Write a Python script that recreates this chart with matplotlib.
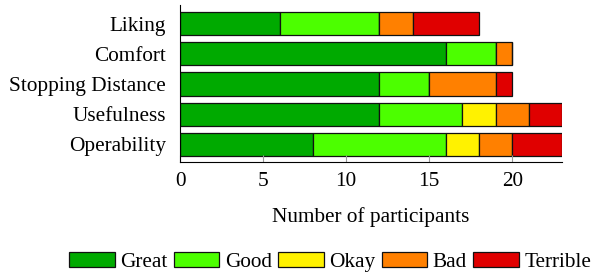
import matplotlib.pyplot as plt
import numpy as np

plt.rcParams['font.family'] = ['Liberation Serif', 'DejaVu Serif']

categories = ['Liking', 'Comfort', 'Stopping Distance', 'Usefulness', 'Operability']
great = [6, 16, 12, 12, 8]
good = [6, 3, 3, 5, 8]
okay = [0, 0, 0, 2, 2]
bad = [2, 1, 4, 2, 2]
terrible = [4, 0, 1, 2, 3]

series = [('Great', great, '#00aa00'),
          ('Good', good, '#4cff00'),
          ('Okay', okay, '#fff200'),
          ('Bad', bad, '#ff8000'),
          ('Terrible', terrible, '#e00000')]

fs = 15.3

fig = plt.figure(figsize=(6, 2.73), dpi=100)
ax = fig.add_axes([180 / 600, 1 - 162 / 273, 382 / 600, 157 / 273])

y = np.arange(len(categories))
left = np.zeros(len(categories))
for name, vals, col in series:
    vals = np.array(vals, dtype=float)
    ax.barh(y, vals, left=left, height=0.77, color=col, edgecolor='#111111',
            linewidth=0.9, label=name)
    left += vals

ax.set_xlim(0, 23)
ax.set_ylim(4.583, -0.617)
ax.set_yticks(y)
ax.set_yticklabels(categories, fontsize=fs)
ax.set_xticks([0, 5, 10, 15, 20])
ax.tick_params(axis='x', direction='in', length=5, color='#999999', labelsize=fs, pad=7)
ax.tick_params(axis='y', length=0, pad=10)
for s in ['top', 'right']:
    ax.spines[s].set_visible(False)
ax.set_xlabel('Number of participants', fontsize=fs, labelpad=12)

ax.legend(loc='center', bbox_to_anchor=(330 / 600, 11 / 273), bbox_transform=fig.transFigure,
          ncol=5, frameon=False, fontsize=fs, handlelength=2.15, handleheight=0.7,
          handletextpad=0.25, columnspacing=0.3, borderaxespad=0, borderpad=0)

fig.savefig('out.png', dpi=100)
